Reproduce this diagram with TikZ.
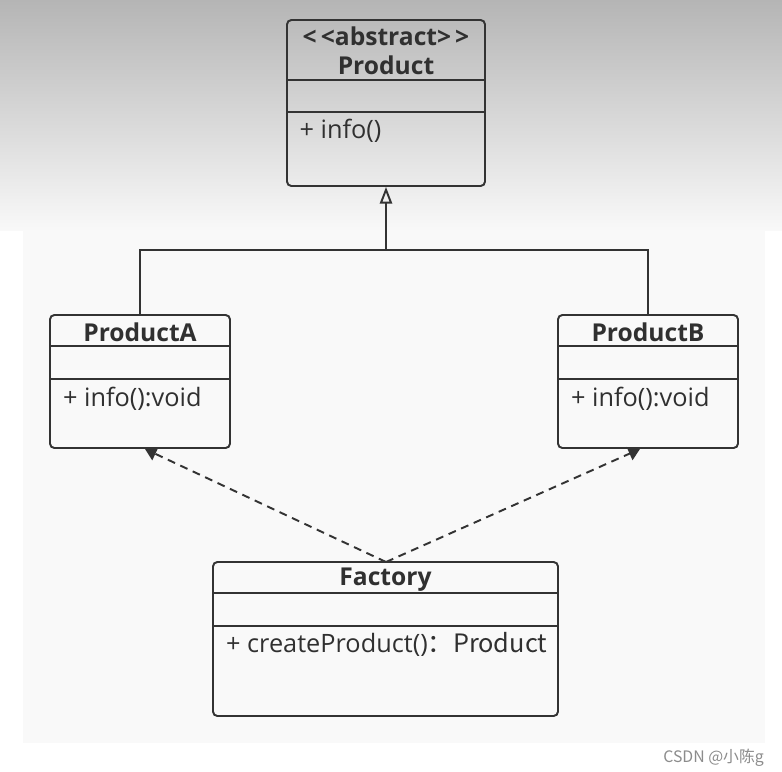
\documentclass[tikz,border=0pt]{standalone}
\usepackage{fontspec}
\setmainfont{Open Sans}
\newfontfamily\cjkfont{Noto Sans CJK SC}
\usetikzlibrary{arrows.meta,calc}

\definecolor{umlline}{HTML}{333333}
\definecolor{umltext}{HTML}{303030}

\tikzset{
  classbox/.style={draw=umlline, line width=1.1pt, rounded corners=2.5pt,
    inner sep=0pt},
  classname/.style={font=\fontsize{14}{17}\selectfont\bfseries, text=umltext, inner sep=1pt},
  member/.style={font=\fontsize{14.4}{17}\selectfont, text=umltext, anchor=west, inner sep=1pt},
  sepline/.style={draw=umlline, line width=1.1pt},
  inherit/.style={draw=umlline, line width=1.1pt,
    -{Triangle[open, length=9.5pt, width=7pt, line width=1.1pt]}},
  depend/.style={draw=umlline, line width=1.1pt, dash pattern=on 4.5pt off 3.3pt,
    -{Triangle[length=6.5pt, width=8pt]}}
}

\begin{document}
\begin{tikzpicture}
  \useasboundingbox (0,0) rectangle (15.64,-15.44);
  % background
  \fill[white] (0,0) rectangle (15.64,-15.44);
  \fill[black!2.5] (0.46,-4.5) rectangle (15.30,-14.86);
  \shade[top color=black!29, bottom color=black!2.5] (0,0) rectangle (15.64,-4.6);

  % abstract product
  \node[classbox, minimum width=3.96cm, minimum height=3.32cm] (prod) at (7.72,-2.06) {};
  \draw[sepline] ($(prod.north west)+(0,-1.22)$) -- ($(prod.north east)+(0,-1.22)$);
  \draw[sepline] ($(prod.north west)+(0,-1.86)$) -- ($(prod.north east)+(0,-1.86)$);
  \node[classname] (prodst) at (7.72,-0.72) {{<}\,{<}abstract{>}\,{>}};
  \node[classname] (prodnm) at (7.72,-1.31) {Product};
  \node[member] (prodm) at (5.95,-2.62) {+ info()};

  % product A
  \node[classbox, minimum width=3.6cm, minimum height=2.66cm] (pa) at (2.80,-7.63) {};
  \draw[sepline] ($(pa.north west)+(0,-0.64)$) -- ($(pa.north east)+(0,-0.64)$);
  \draw[sepline] ($(pa.north west)+(0,-1.30)$) -- ($(pa.north east)+(0,-1.30)$);
  \node[classname] (panm) at (2.80,-6.65) {ProductA};
  \node[member] (pam) at (1.22,-7.97) {+ info():void};

  % product B
  \node[classbox, minimum width=3.6cm, minimum height=2.66cm] (pb) at (12.96,-7.63) {};
  \draw[sepline] ($(pb.north west)+(0,-0.64)$) -- ($(pb.north east)+(0,-0.64)$);
  \draw[sepline] ($(pb.north west)+(0,-1.30)$) -- ($(pb.north east)+(0,-1.30)$);
  \node[classname] (pbnm) at (12.96,-6.65) {ProductB};
  \node[member] (pbm) at (11.38,-7.97) {+ info():void};

  % factory
  \node[classbox, minimum width=6.9cm, minimum height=3.08cm] (fac) at (7.71,-12.78) {};
  \draw[sepline] ($(fac.north west)+(0,-0.64)$) -- ($(fac.north east)+(0,-0.64)$);
  \draw[sepline] ($(fac.north west)+(0,-1.30)$) -- ($(fac.north east)+(0,-1.30)$);
  \node[classname] (facnm) at (7.71,-11.60) {Factory};
  \node[member] (facm) at (4.48,-12.89) {+ createProduct()\cjkfont{：}Product};

  % inheritance
  \coordinate (hub) at (7.72,-5.0);
  \draw[sepline] (pa.north) |- (hub) -| (pb.north);
  \draw[inherit] (hub) -- (prod.south);

  % dependencies
  \coordinate (fac top) at (7.72,-11.24);
  \draw[depend] (fac top) -- ($(pa.south)+(0.10,0)$);
  \draw[depend] (fac top) -- ($(pb.south)+(-0.16,0)$);

  % watermark
  \node[font=\cjkfont\fontsize{9}{10}\selectfont, text=black!45, anchor=east] (wm)
    at (15.40,-15.16) {CSDN @小陈g};
\end{tikzpicture}
\end{document}
